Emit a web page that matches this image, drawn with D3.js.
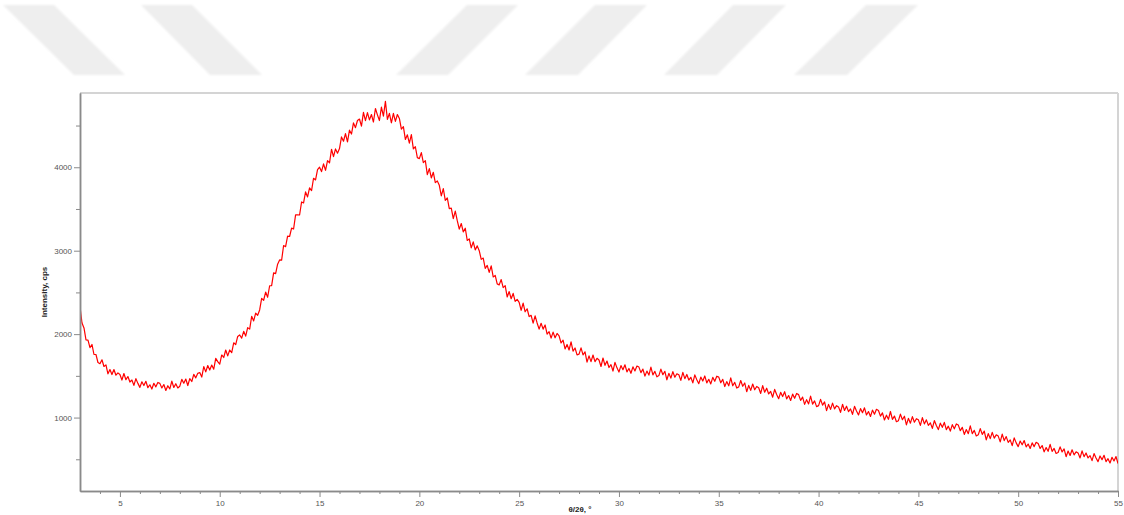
<!DOCTYPE html>
<html>
<head>
<meta charset="utf-8">
<script src="https://cdn.jsdelivr.net/npm/d3@7"></script>
<style>
  html, body { margin: 0; padding: 0; background: #ffffff; }
  svg { display: block; font-family: "Liberation Sans", Arial, sans-serif; }
</style>
</head>
<body>
<svg id="chart" width="1124" height="515"></svg>
<script>
// ---- data ----
const thetaStart = 3.0;   // first 2θ value, degrees
const thetaStep = 0.1;    // sampling step, degrees
const intensity = [
  2330,2134,2074,1932,1928,1838,1876,1756,1756,1660,
  1646,1693,1612,1632,1524,1576,1516,1576,1508,1536,
  1516,1450,1528,1454,1492,1426,1450,1386,1466,1410,
  1362,1429,1384,1435,1358,1393,1342,1411,1368,1421,
  1410,1355,1396,1325,1382,1343,1436,1361,1406,1355,
  1376,1458,1412,1462,1384,1466,1432,1518,1476,1530,
  1540,1486,1612,1548,1624,1570,1630,1580,1710,1670,
  1640,1750,1720,1810,1740,1810,1778,1896,1874,1972,
  1990,1952,2034,1976,2078,2060,2214,2158,2252,2226,
  2290,2428,2406,2504,2442,2580,2582,2734,2726,2838,
  2890,2886,3062,3048,3174,3170,3270,3260,3430,3430,
  3428,3584,3572,3704,3644,3752,3720,3868,3848,3972,
  4000,3948,4040,3964,4080,4052,4216,4128,4220,4168,
  4224,4364,4312,4404,4304,4444,4398,4532,4474,4560,
  4578,4492,4658,4558,4654,4568,4632,4542,4704,4628,
  4560,4720,4612,4790,4574,4645,4533,4646,4549,4632,
  4585,4458,4487,4334,4389,4288,4391,4221,4246,4115,
  4104,4176,4056,4080,3912,3984,3872,3940,3816,3836,
  3784,3656,3744,3604,3632,3504,3510,3384,3474,3360,
  3258,3326,3226,3270,3122,3142,3034,3106,3010,3058,
  3000,2896,2912,2788,2824,2740,2818,2686,2704,2602,
  2590,2654,2558,2582,2446,2510,2424,2488,2392,2416,
  2380,2286,2372,2268,2304,2210,2226,2132,2218,2134,
  2060,2130,2060,2110,2000,2030,1952,2024,1956,2008,
  1980,1894,1928,1822,1876,1810,1908,1796,1834,1752,
  1760,1836,1752,1788,1664,1740,1670,1750,1670,1710,
  1690,1612,1714,1626,1678,1600,1634,1558,1662,1596,
  1546,1623,1574,1633,1548,1589,1531,1608,1559,1618,
  1605,1539,1581,1497,1557,1509,1605,1512,1554,1488,
  1503,1580,1514,1555,1453,1530,1473,1550,1484,1525,
  1513,1446,1542,1466,1517,1450,1483,1416,1512,1454,
  1406,1485,1438,1499,1416,1459,1403,1482,1435,1496,
  1485,1417,1458,1372,1431,1381,1476,1381,1422,1354,
  1368,1444,1375,1415,1310,1386,1326,1402,1333,1373,
  1358,1289,1382,1304,1352,1283,1313,1244,1337,1277,
  1226,1302,1252,1310,1224,1264,1205,1281,1231,1289,
  1275,1206,1245,1158,1215,1164,1257,1161,1200,1131,
  1143,1218,1149,1188,1083,1158,1098,1173,1104,1143,
  1128,1063,1159,1085,1136,1071,1104,1039,1135,1079,
  1031,1108,1058,1117,1031,1072,1013,1090,1040,1099,
  1085,1017,1057,971,1029,979,1073,978,1018,950,
  963,1041,974,1016,913,991,933,1011,944,986,
  973,906,1000,924,973,906,937,870,964,906,
  856,933,883,942,856,897,838,915,865,924,
  910,843,883,798,856,807,901,807,847,780,
  793,868,799,838,733,808,748,823,754,793,
  778,709,802,724,772,703,733,664,757,697,
  652,719,674,725,648,683,630,697,652,703,
  690,630,665,589,640,596,679,595,630,570,
  581,649,588,624,531,599,546,614,553,589,
  576,516,600,532,576,516,544,484,568,516,
  472,540,496,548,472,508,456,524,480,532,
  450
];
const xMajorTicks = [5,10,15,20,25,30,35,40,45,50,55];
const xMinorTicks = [4,6,7,8,9,11,12,13,14,16,17,18,19,21,22,23,24,26,27,28,29,31,32,33,34,36,37,38,39,41,42,43,44,46,47,48,49,51,52,53,54];
const yMajorTicks = [1000,2000,3000,4000];
const yMinorTicks = [500,1500,2500,3500,4500];
const xDomain = [3, 55];
const yDomain = [120, 4890];
const xTitle = "θ/2θ, °";
const yTitle = "Intensity, cps";

// ---- layout ----
const svg = d3.select("#chart");
const L = 80, R = 1118, T = 93, B = 491;

// decorative watermark stripes at the top
const stripes = [
  [[3,5],[54,5],[125,75],[74,75]],
  [[141,5],[192,5],[262,75],[210,75]],
  [[467,5],[518,5],[448,75],[396,75]],
  [[595,5],[647,5],[578,75],[525,75]],
  [[733,5],[786,5],[717,75],[664,75]],
  [[866,5],[918,5],[847,75],[794,75]]
];
const defs = svg.append("defs");
defs.append("filter").attr("id","soft")
  .append("feGaussianBlur").attr("stdDeviation", 0.8);
svg.append("g").attr("filter","url(#soft)")
  .selectAll("polygon").data(stripes).join("polygon")
  .attr("points", d => d.map(p => p.join(",")).join(" "))
  .attr("fill", "#eeeeee");

const x = d3.scaleLinear().domain(xDomain).range([L, R]);
const y = d3.scaleLinear().domain(yDomain).range([B, T]);

const data = intensity.map((v, i) => ({ t: thetaStart + i * thetaStep, v }));

// frame: top & right light gray
svg.append("line").attr("x1", L).attr("x2", R).attr("y1", T).attr("y2", T)
  .attr("stroke", "#d4d4d4").attr("stroke-width", 2);
svg.append("line").attr("x1", R).attr("x2", R).attr("y1", T).attr("y2", B)
  .attr("stroke", "#d4d4d4").attr("stroke-width", 2);

// curve
const clipId = "plotclip";
defs.append("clipPath").attr("id", clipId).append("rect")
  .attr("x", L).attr("y", T).attr("width", R - L).attr("height", B - T);
svg.append("path")
  .datum(data)
  .attr("clip-path", `url(#${clipId})`)
  .attr("fill", "none")
  .attr("stroke", "#ff0000")
  .attr("stroke-width", 1.2)
  .attr("stroke-linejoin", "round")
  .attr("d", d3.line().x(d => x(d.t)).y(d => y(d.v)));

// axes
const axisColor = "#8a8a8a";
const textColor = "#555555";

const xAxis = svg.append("g").attr("transform", `translate(0,${B})`)
  .call(d3.axisBottom(x).tickValues(xMajorTicks).tickSize(6).tickSizeOuter(0).tickPadding(3).tickFormat(d3.format("d")));
const xMinor = svg.append("g").attr("transform", `translate(0,${B})`)
  .call(d3.axisBottom(x).tickValues(xMinorTicks).tickSize(3).tickSizeOuter(0).tickFormat(""));
const yAxis = svg.append("g").attr("transform", `translate(${L},0)`)
  .call(d3.axisLeft(y).tickValues(yMajorTicks).tickSize(6).tickSizeOuter(0).tickPadding(2).tickFormat(d3.format("d")));
const yMinor = svg.append("g").attr("transform", `translate(${L},0)`)
  .call(d3.axisLeft(y).tickValues(yMinorTicks).tickSize(4).tickSizeOuter(0).tickFormat(""));

[xAxis, xMinor, yAxis, yMinor].forEach(g => {
  g.select(".domain").attr("stroke", axisColor).attr("stroke-width", 1.5);
  g.selectAll(".tick line").attr("stroke", axisColor).attr("stroke-width", 1);
  g.selectAll(".tick text").attr("fill", textColor)
    .style("font-size", "8px").style("font-family", "'Liberation Sans', Arial, sans-serif");
});

// axis titles
svg.append("text")
  .attr("x", 580).attr("y", 512)
  .attr("text-anchor", "middle")
  .attr("font-size", 8).attr("font-weight", "bold").attr("fill", "#222")
  .text(xTitle);
svg.append("text")
  .attr("transform", `translate(47,${(T + B) / 2}) rotate(-90)`)
  .attr("text-anchor", "middle")
  .attr("font-size", 8).attr("font-weight", "bold").attr("fill", "#222")
  .text(yTitle);
</script>
</body>
</html>
